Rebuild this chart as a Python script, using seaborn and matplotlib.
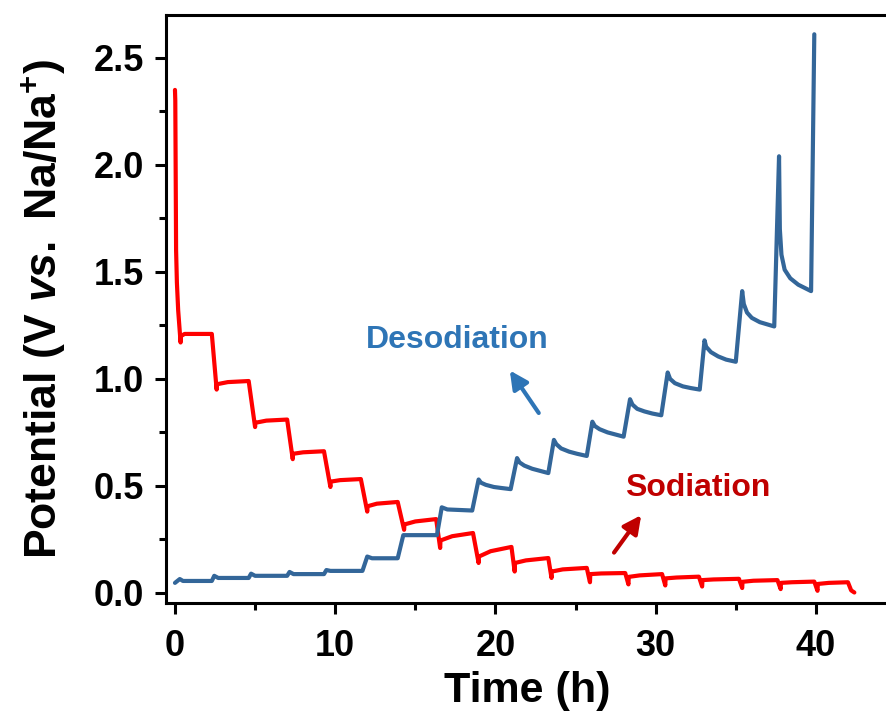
import matplotlib
matplotlib.use("Agg")
import matplotlib.pyplot as plt
from matplotlib.ticker import MultipleLocator
import seaborn as sns
import pandas as pd

# ---- data (time in h, potential in V) ----
sod_time = [0.0, 0.02, 0.07, 0.12, 0.2, 0.35, 0.37, 0.6, 2.3,
            2.6, 2.62, 3.3, 4.6,
            5.0, 5.02, 5.7, 7.0,
            7.35, 7.37, 8.0, 9.3,
            9.7, 9.72, 10.3, 11.6,
            12.0, 12.02, 12.6, 13.9,
            14.3, 14.32, 15.0, 16.3,
            16.55, 16.57, 17.3, 18.6,
            18.95, 18.97, 19.7, 21.0,
            21.2, 21.22, 21.9, 23.3,
            23.5, 23.52, 24.2, 25.7,
            25.9, 25.92, 26.6, 28.1,
            28.3, 28.32, 29.0, 30.4,
            30.6, 30.62, 31.3, 32.7,
            32.9, 32.92, 33.6, 35.2,
            35.4, 35.42, 36.1, 37.6,
            37.8, 37.82, 38.5, 39.9,
            40.1, 40.12, 40.8, 42.0,
            42.2, 42.4]
sod_pot = [2.35, 2.30, 1.60, 1.45, 1.32, 1.17, 1.20, 1.21, 1.21,
           0.95, 0.975, 0.985, 0.99,
           0.775, 0.795, 0.805, 0.81,
           0.625, 0.65, 0.657, 0.662,
           0.495, 0.52, 0.527, 0.532,
           0.38, 0.405, 0.417, 0.425,
           0.295, 0.32, 0.334, 0.345,
           0.21, 0.245, 0.265, 0.28,
           0.14, 0.17, 0.195, 0.215,
           0.10, 0.14, 0.152, 0.163,
           0.07, 0.10, 0.11, 0.117,
           0.05, 0.088, 0.091, 0.093,
           0.04, 0.075, 0.082, 0.088,
           0.035, 0.068, 0.072, 0.076,
           0.03, 0.06, 0.063, 0.066,
           0.023, 0.052, 0.057, 0.06,
           0.018, 0.047, 0.05, 0.053,
           0.01, 0.042, 0.047, 0.05,
           0.012, 0.002]

desod_time = [0.0, 0.3, 0.5, 2.3,
              2.45, 2.7, 4.6,
              4.75, 5.0, 7.0,
              7.15, 7.4, 9.3,
              9.45, 9.7, 11.7,
              12.0, 12.3, 13.9,
              14.25, 16.35,
              16.65, 17.0, 18.55,
              18.95, 19.1, 19.4, 19.9, 20.4, 20.95,
              21.35, 21.5, 21.8, 22.3, 22.8, 23.3,
              23.65, 23.8, 24.1, 24.6, 25.1, 25.7,
              26.05, 26.2, 26.5, 27.0, 27.5, 28.0,
              28.4, 28.55, 28.85, 29.3, 29.8, 30.35,
              30.75, 30.9, 31.2, 31.7, 32.2, 32.75,
              33.05, 33.15, 33.45, 33.9, 34.4, 35.0,
              35.4, 35.5, 35.7, 36.0, 36.5, 37.4,
              37.7, 37.75, 37.85, 38.05, 38.4, 38.9, 39.7,
              39.9]
desod_pot = [0.047, 0.065, 0.056, 0.056,
             0.08, 0.07, 0.07,
             0.09, 0.08, 0.08,
             0.098, 0.088, 0.088,
             0.107, 0.103, 0.103,
             0.17, 0.162, 0.162,
             0.27, 0.27,
             0.40, 0.39, 0.385,
             0.53, 0.515, 0.505, 0.495, 0.49, 0.485,
             0.63, 0.61, 0.595, 0.58, 0.57, 0.56,
             0.715, 0.695, 0.675, 0.66, 0.65, 0.64,
             0.80, 0.78, 0.765, 0.75, 0.74, 0.73,
             0.905, 0.88, 0.86, 0.848, 0.838, 0.83,
             1.03, 1.0, 0.98, 0.965, 0.957, 0.95,
             1.18, 1.15, 1.125, 1.105, 1.09, 1.08,
             1.41, 1.35, 1.31, 1.285, 1.265, 1.245,
             2.04, 1.70, 1.58, 1.51, 1.47, 1.44, 1.41,
             2.61]

x_ticks = [0, 10, 20, 30, 40]
y_ticks = [0.0, 0.5, 1.0, 1.5, 2.0, 2.5]

RED = "#FF0000"
BLUE = "#336699"
BLUE_TXT = "#2E75B6"
RED_TXT = "#C00000"

sns.set_theme(style="ticks")
plt.rcParams["font.family"] = ["Liberation Sans", "DejaVu Sans"]
plt.rcParams["font.weight"] = "bold"
plt.rcParams["text.color"] = "black"
plt.rcParams["axes.labelcolor"] = "black"
plt.rcParams["xtick.color"] = "black"
plt.rcParams["ytick.color"] = "black"
plt.rcParams["mathtext.fontset"] = "custom"
plt.rcParams["mathtext.rm"] = "Liberation Sans:bold"
plt.rcParams["mathtext.it"] = "Liberation Sans:italic:bold"
plt.rcParams["mathtext.bf"] = "Liberation Sans:bold"

fig = plt.figure(figsize=(8.86, 7.15), dpi=100)
ax = fig.add_axes([166 / 886, 112 / 715, 722 / 886, 588 / 715])

sod = pd.DataFrame({"t": sod_time, "V": sod_pot})
des = pd.DataFrame({"t": desod_time, "V": desod_pot})
sns.lineplot(data=sod, x="t", y="V", sort=False, estimator=None, color=RED,
             linewidth=3, ax=ax)
sns.lineplot(data=des, x="t", y="V", sort=False, estimator=None, color=BLUE,
             linewidth=3, ax=ax)

ax.set_xlim(-0.56, 44.5)
ax.set_ylim(-0.047, 2.70)
ax.set_xticks(x_ticks)
ax.set_yticks(y_ticks)
ax.set_yticklabels([f"{v:.1f}" for v in y_ticks])
ax.xaxis.set_minor_locator(MultipleLocator(5))
ax.yaxis.set_minor_locator(MultipleLocator(0.25))
ax.tick_params(which="major", direction="out", length=8, width=2.2,
               labelsize=26, color="black", labelcolor="black")
ax.tick_params(which="minor", direction="out", length=5, width=2.2, color="black")
ax.tick_params(axis="x", which="major", pad=11)
ax.tick_params(axis="y", which="major", pad=8)
for lab in ax.get_xticklabels() + ax.get_yticklabels():
    lab.set_fontweight("bold")

for s in ["left", "bottom", "top"]:
    ax.spines[s].set_linewidth(2.2)
    ax.spines[s].set_color("black")
ax.spines["right"].set_visible(False)

ax.set_xlabel("Time (h)", fontsize=31, fontweight="bold", labelpad=5)
ax.set_ylabel(r"Potential (V $\mathit{vs.}$ Na/Na$^{+}$)", fontsize=32,
              fontweight="bold", labelpad=18)

ax.text(17.6, 1.18, "Desodiation", color=BLUE_TXT, fontsize=23,
        fontweight="bold", ha="center", va="center")
ax.text(32.6, 0.49, "Sodiation", color=RED_TXT, fontsize=23,
        fontweight="bold", ha="center", va="center")
ax.annotate("", xy=(20.8, 1.05), xytext=(22.8, 0.83),
            arrowprops=dict(arrowstyle="-|>,head_length=0.9,head_width=0.45",
                            color=BLUE_TXT, lw=3))
ax.annotate("", xy=(29.2, 0.374), xytext=(27.3, 0.178),
            arrowprops=dict(arrowstyle="-|>,head_length=0.9,head_width=0.45",
                            color=RED_TXT, lw=3))

fig.savefig("out.png", dpi=100)
